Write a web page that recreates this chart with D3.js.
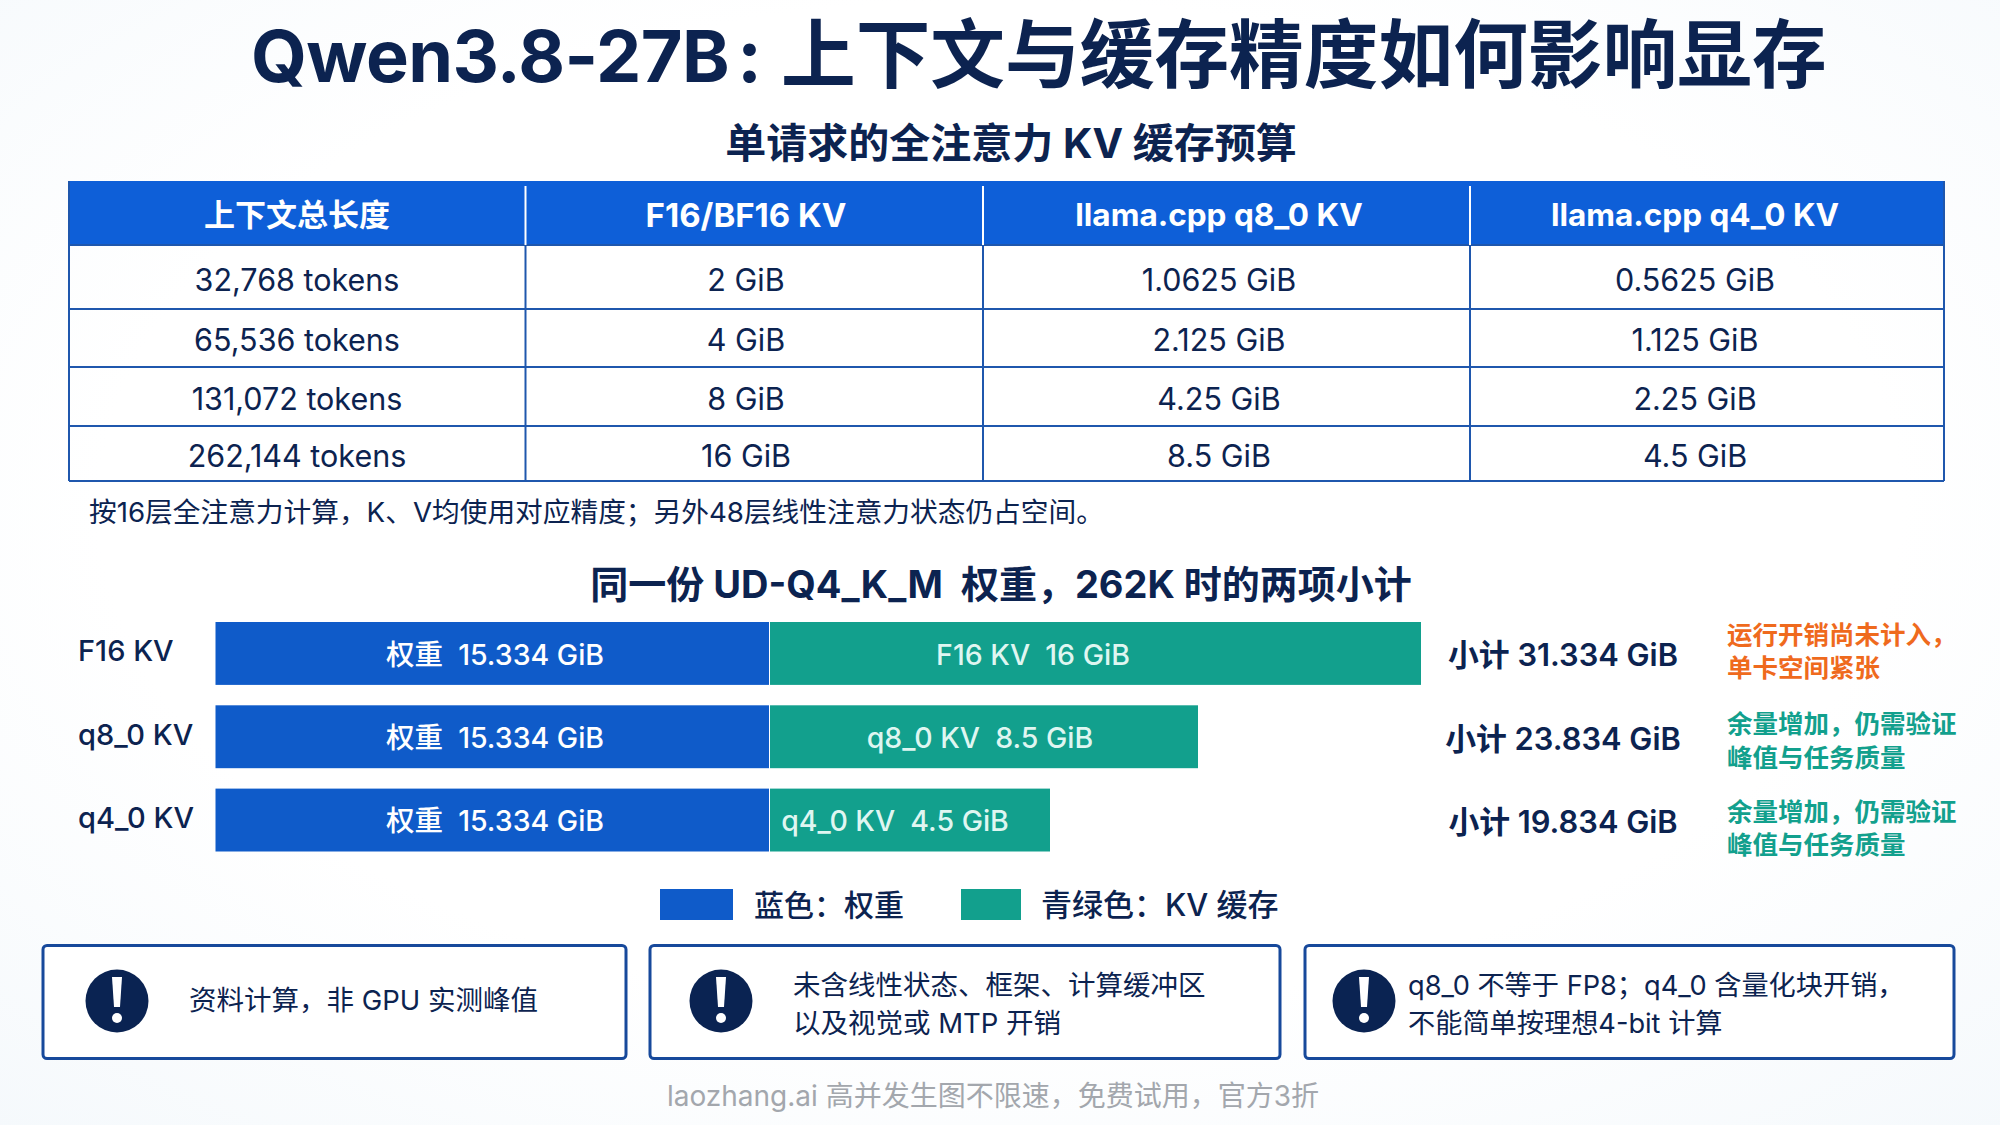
<!DOCTYPE html>
<html lang="zh-CN"><head><meta charset="utf-8">
<script src="https://cdnjs.cloudflare.com/ajax/libs/d3/7.9.0/d3.min.js"></script>
<style>html,body{margin:0;padding:0;background:#fbfdfe}svg{display:block}text{font-family:Inter,"Noto Sans CJK SC","Noto Sans",sans-serif;white-space:pre}</style>
</head><body><svg id="c" width="2000" height="1125"></svg>
<script>
const titleLatin="Qwen3.8-27B";
const titleColon=":";
const titleCjk="上下文与缓存精度如何影响显存";
const tableTitle="单请求的全注意力 KV 缓存预算";
const tableHeader=["上下文总长度","F16/BF16 KV","llama.cpp q8_0 KV","llama.cpp q4_0 KV"];
const tokens=["32,768 tokens","65,536 tokens","131,072 tokens","262,144 tokens"];
const f16Col=["2 GiB","4 GiB","8 GiB","16 GiB"];
const q8Col=["1.0625 GiB","2.125 GiB","4.25 GiB","8.5 GiB"];
const q4Col=["0.5625 GiB","1.125 GiB","2.25 GiB","4.5 GiB"];
const tableNote="按16层全注意力计算，K、V均使用对应精度；另外48层线性注意力状态仍占空间。";
const chartTitle="同一份 UD-Q4_K_M  权重，262K 时的两项小计";
const categories=["F16 KV","q8_0 KV","q4_0 KV"];
const weights=[15.334,15.334,15.334];
const kv=[16,8.5,4.5];
const subtotals=["小计 31.334 GiB","小计 23.834 GiB","小计 19.834 GiB"];
const rowNotes=[["运行开销尚未计入，","单卡空间紧张"],["余量增加，仍需验证","峰值与任务质量"],["余量增加，仍需验证","峰值与任务质量"]];
const legendLabels=["蓝色：权重","青绿色：KV 缓存"];
const callouts=[["资料计算，非 GPU 实测峰值"],["未含线性状态、框架、计算缓冲区","以及视觉或 MTP 开销"],["q8_0 不等于 FP8；q4_0 含量化块开销，","不能简单按理想4-bit 计算"]];
const footer="laozhang.ai 高并发生图不限速，免费试用，官方3折";

const NAVY="#0c2350",BLUE="#0f5bc9",TEAL="#12a08d",ORANGE="#ef6a1d",RULE="#1f57ad";
const svg=d3.select("#c");
const defs=svg.append("defs");
const g=defs.append("radialGradient").attr("id","bg").attr("cx","50%").attr("cy","45%").attr("r","75%");
g.append("stop").attr("offset","60%").attr("stop-color","#ffffff");
g.append("stop").attr("offset","100%").attr("stop-color","#f5f9fc");
svg.append("rect").attr("width",2000).attr("height",1125).attr("fill","url(#bg)");

function label(s,x,y,size,opt={}){
  return svg.append("text").attr("x",x).attr("y",y).attr("dy","0.36em")
    .attr("text-anchor",opt.anchor||"middle").attr("font-size",size)
    .attr("font-weight",opt.weight||500).attr("fill",opt.fill||NAVY).text(s);
}
const tt=svg.append("text").attr("y",55).attr("dy","0.36em").attr("font-size",75).attr("font-weight",700).attr("fill",NAVY);
tt.append("tspan").attr("x",251).attr("font-size",72).attr("letter-spacing",-0.6).text(titleLatin);
tt.append("tspan").attr("x",737).text(titleColon);
tt.append("tspan").attr("x",781).attr("font-size",74.7).text(titleCjk);
label(tableTitle,1011,143,41,{weight:700});

/* table */
const colEdges=[69,525.5,983,1470,1944];
const rowEdges=[181,245,309,367,426,481];
const columns=[tokens,f16Col,q8Col,q4Col];
svg.append("rect").attr("x",colEdges[0]).attr("y",rowEdges[0]).attr("width",colEdges[4]-colEdges[0]).attr("height",rowEdges[1]-rowEdges[0]).attr("fill","#0e5fd8");
svg.append("g").selectAll("line").data(rowEdges.slice(1)).join("line")
  .attr("x1",colEdges[0]).attr("x2",colEdges[4]).attr("y1",d=>d).attr("y2",d=>d).attr("stroke",RULE).attr("stroke-width",2);
svg.append("g").selectAll("line").data(colEdges).join("line")
  .attr("x1",d=>d).attr("x2",d=>d).attr("y1",(d,i)=>(i==0||i==4)?rowEdges[0]:rowEdges[1]).attr("y2",rowEdges[5]).attr("stroke",RULE).attr("stroke-width",2);
svg.append("g").selectAll("line").data(colEdges.slice(1,4)).join("line")
  .attr("x1",d=>d).attr("x2",d=>d).attr("y1",186).attr("y2",rowEdges[1]).attr("stroke","#ffffff").attr("stroke-width",2);
const colCx=[297,746,1219,1695];
const rowCy=[280,340,399,456];
const headSize=[31,33,31.5,31.5];
tableHeader.forEach((h,i)=>label(h,colCx[i],215,headSize[i],{fill:"#fff",weight:700}));
columns.forEach((col,i)=>col.forEach((s,j)=>label(s,colCx[i],rowCy[j],30.5,{weight:400})));
label(tableNote,89,512,27.7,{anchor:"start",weight:400});

/* stacked bars */
label(chartTitle,1001,584,38,{weight:700});
const x=d3.scaleLinear().domain([0,15.334,19.834,23.834,31.334]).range([215.5,769,1050,1198,1421]);
const y=d3.scaleBand().domain(categories).range([622,851.5]).paddingInner(0.245);
const labelY=[654.5,737.5,820.5], catY=[651,735,818], subY=[654.5,738.5,822];
const kvLabelX=[1033,980,895];
const kvLabel=(i)=>categories[i]+"  "+kv[i]+" GiB";
svg.append("g").selectAll("rect").data(categories).join("rect")
  .attr("x",x(0)).attr("y",d=>y(d)).attr("height",y.bandwidth())
  .attr("width",(d,i)=>x(weights[i])-x(0)).attr("fill",BLUE);
svg.append("g").selectAll("rect").data(categories).join("rect")
  .attr("x",(d,i)=>x(weights[i])+1).attr("y",d=>y(d)).attr("height",y.bandwidth())
  .attr("width",(d,i)=>x(weights[i]+kv[i])-x(weights[i])-1).attr("fill",TEAL);
categories.forEach((c,i)=>{
  label(c,78,catY[i],29,{weight:500,anchor:"start"});
  label("权重  "+weights[i]+" GiB",495,labelY[i],28.5,{fill:"#fff",weight:500});
  label(kvLabel(i),kvLabelX[i],labelY[i],28.5,{fill:"#dff6f1",weight:500});
  label(subtotals[i],1563,subY[i],30.8,{weight:600});
});
const noteY=[[635,668],[724,757.5],[811.5,845]];
rowNotes.forEach((ls,i)=>ls.forEach((s,j)=>label(s,1727,noteY[i][j],25.5,{anchor:"start",weight:600,fill:i==0?ORANGE:TEAL})));

/* legend */
svg.append("rect").attr("x",660).attr("y",889).attr("width",73).attr("height",31).attr("fill",BLUE);
svg.append("rect").attr("x",961).attr("y",889).attr("width",60).attr("height",31).attr("fill",TEAL);
label(legendLabels[0],754,905,30,{anchor:"start",weight:500});
label(legendLabels[1],1041,905,31,{anchor:"start",weight:500});

/* callouts */
const boxX=[[43,626],[650,1280],[1305,1954]], iconX=[117,721,1364], textX=[189,793,1408], lineY=[985,1023], boxFont=[27.5,27.5,27.2];
callouts.forEach((ls,i)=>{
  svg.append("rect").attr("x",boxX[i][0]).attr("y",945.5).attr("width",boxX[i][1]-boxX[i][0]).attr("height",113).attr("rx",4)
    .attr("fill","#fff").attr("stroke","#17499b").attr("stroke-width",3);
  svg.append("ellipse").attr("cx",iconX[i]).attr("cy",1001).attr("rx",31.5).attr("ry",31.5).attr("fill","#0a2352");
  svg.append("path").attr("d",d3.line()([[iconX[i]-5,977],[iconX[i]+5,977],[iconX[i]+3,1007],[iconX[i]-3,1007]])+"Z").attr("fill","#fff");
  svg.append("circle").attr("cx",iconX[i]).attr("cy",1018).attr("r",5).attr("fill","#fff");
  ls.forEach((s,j)=>label(s,textX[i],ls.length==1?1000:lineY[j],boxFont[i],{anchor:"start",weight:400}));
});
label(footer,993,1096,28,{fill:"#a3a7ad",weight:400});
</script></body></html>
